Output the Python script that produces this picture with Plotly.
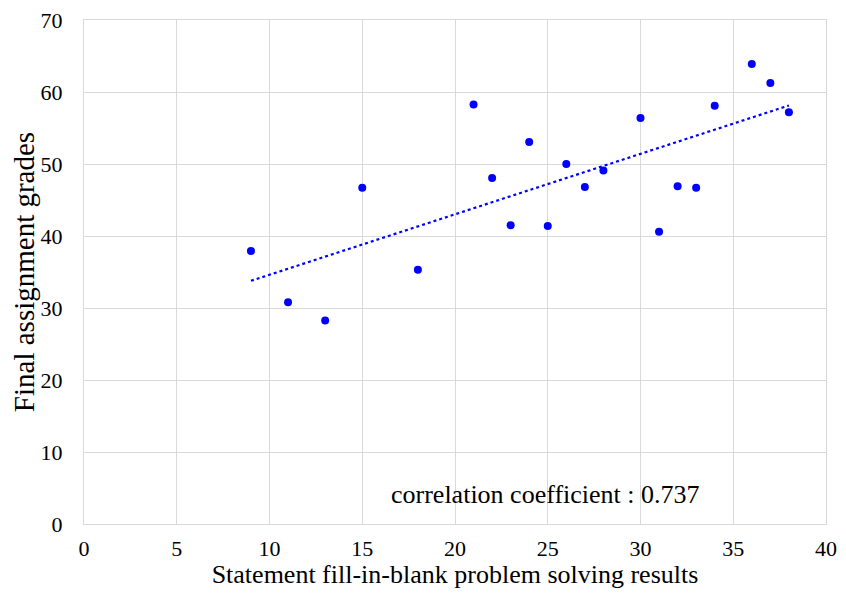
import numpy as np
import plotly.graph_objects as go

x_scores = [9, 11, 13, 15, 18, 21, 22, 23, 24, 25, 26, 27, 28, 30, 31, 32, 33, 34, 36, 37, 38]
y_grades = [37.9, 30.8, 28.25, 46.7, 35.3, 58.25, 48.05, 41.5, 53.05, 41.4, 50.0, 46.8, 49.1,
            56.4, 40.6, 46.9, 46.7, 58.1, 63.9, 61.25, 57.2]
x_ticks = [0, 5, 10, 15, 20, 25, 30, 35, 40]
y_ticks = [0, 10, 20, 30, 40, 50, 60, 70]
corr_label = "correlation coefficient : 0.737"

slope, intercept = np.polyfit(x_scores, y_grades, 1)
tx = [min(x_scores), max(x_scores)]
ty = [slope * v + intercept for v in tx]

FONT = "Liberation Serif"
GRID = "#d9d9d9"

fig = go.Figure()
fig.add_trace(go.Scatter(x=tx, y=ty, mode="lines",
                         line=dict(color="#0000FF", width=2.2, dash="dot"),
                         showlegend=False, hoverinfo="skip"))
fig.add_trace(go.Scatter(x=x_scores, y=y_grades, mode="markers",
                         marker=dict(color="#0000FF", size=8),
                         showlegend=False))

fig.add_annotation(x=24.9, y=4.1, text=corr_label, showarrow=False,
                   font=dict(family=FONT, size=26, color="black"))

# the page body adds an 8px margin; size the figure so the page does not overflow
fig.update_layout(
    width=830, height=581,
    margin=dict(l=76, r=12, t=12, b=65),
    plot_bgcolor="white", paper_bgcolor="white",
    font=dict(family=FONT, size=22, color="black"),
)
fig.update_xaxes(range=[0, 40], tickvals=x_ticks, showgrid=True, gridcolor=GRID, gridwidth=1,
                 showline=True, linecolor=GRID, mirror=True, zeroline=False, ticks="",
                 automargin=False, ticklabelstandoff=5, ticklabeloverflow="allow",
                 title=dict(text="Statement fill-in-blank problem solving results", standoff=3,
                            font=dict(family=FONT, size=26, color="black")),
                 tickfont=dict(family=FONT, size=22, color="black"))
fig.update_yaxes(range=[0, 70], tickvals=y_ticks, showgrid=True, gridcolor=GRID, gridwidth=1,
                 showline=True, linecolor=GRID, mirror=True, zeroline=False, ticks="",
                 automargin=False, ticklabelstandoff=16, ticklabeloverflow="allow",
                 title=dict(text="Final assignment grades", standoff=0,
                            font=dict(family=FONT, size=29, color="black")),
                 tickfont=dict(family=FONT, size=22, color="black"))

fig.write_html("out.html")
